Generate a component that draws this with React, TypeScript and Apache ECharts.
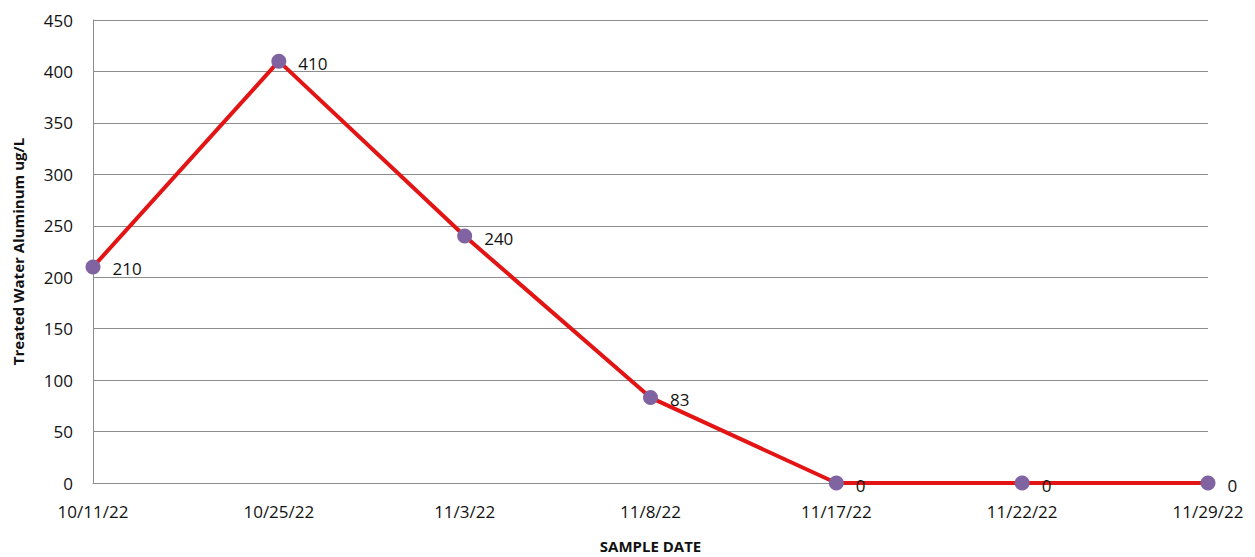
import React, { useEffect, useRef } from "react";
import * as echarts from "echarts";

const categories = ["10/11/22", "10/25/22", "11/3/22", "11/8/22", "11/17/22", "11/22/22", "11/29/22"];
const values = [210, 410, 240, 83, 0, 0, 0];
const yTicks = { min: 0, max: 450, interval: 50 };

const FONT = "'Open Sans', 'Liberation Sans', sans-serif";

export default function App() {
  const ref = useRef<HTMLDivElement>(null);
  useEffect(() => {
    if (!ref.current) return;
    const chart = echarts.init(ref.current, undefined, { renderer: "svg" });
    chart.setOption({
      animation: false,
      backgroundColor: "#ffffff",
      grid: { left: 93, right: 47, top: 20, bottom: 74, containLabel: false, outerBoundsMode: "none" },
      xAxis: {
        type: "category",
        data: categories,
        boundaryGap: false,
        name: "SAMPLE DATE",
        nameLocation: "middle",
        nameGap: 55,
        nameTextStyle: { fontFamily: FONT, fontWeight: "bold", fontSize: 15, color: "#111" },
        axisLine: { show: true, lineStyle: { color: "#8c8c8c", width: 1 } },
        axisTick: { show: false },
        axisLabel: { fontFamily: FONT, fontSize: 17, color: "#111", margin: 20, interval: 0 },
        splitLine: { show: false },
      },
      yAxis: {
        type: "value",
        min: yTicks.min,
        max: yTicks.max,
        interval: yTicks.interval,
        name: "Treated Water Aluminum ug/L",
        nameLocation: "middle",
        nameGap: 68,
        nameTextStyle: { fontFamily: FONT, fontWeight: "bold", fontSize: 15, color: "#111" },
        axisLine: { show: true, lineStyle: { color: "#8c8c8c", width: 1 } },
        axisTick: { show: false },
        axisLabel: { fontFamily: FONT, fontSize: 17, color: "#111", margin: 20 },
        splitLine: { show: true, lineStyle: { color: "#8c8c8c", width: 1 } },
      },
      series: [
        {
          type: "line",
          data: values,
          symbol: "circle",
          symbolSize: 15,
          itemStyle: { color: "#8064a2" },
          lineStyle: { color: "#e31414", width: 4 },
          label: {
            show: true,
            position: "right",
            distance: 12,
            offset: [0, 2],
            fontFamily: FONT,
            fontSize: 17,
            color: "#111",
          },
          z: 3,
        },
      ],
    });
    return () => chart.dispose();
  }, []);
  return (
    <div
      ref={ref}
      style={{ position: "fixed", left: 0, top: 0, width: 1255, height: 557 }}
    />
  );
}
